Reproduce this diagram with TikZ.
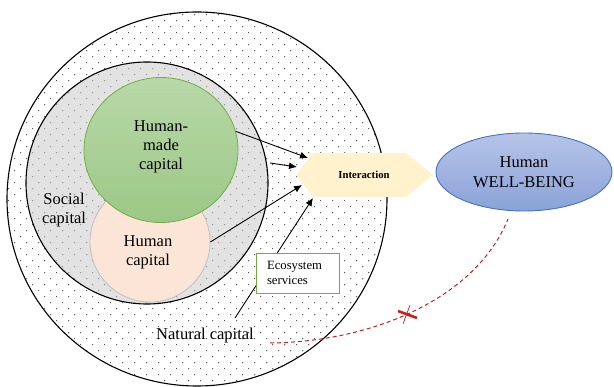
\documentclass[tikz,border=0pt]{standalone}
\usepackage{fontspec}
\setmainfont{Liberation Serif}
\usetikzlibrary{arrows.meta,shapes.geometric}

\definecolor{socialgray}{RGB}{226,226,226}
\definecolor{peachfill}{RGB}{251,229,214}
\definecolor{peachline}{RGB}{191,191,191}
\definecolor{greentop}{RGB}{184,216,168}
\definecolor{greenbot}{RGB}{156,200,134}
\definecolor{greenline}{RGB}{112,173,71}
\definecolor{hexfill}{RGB}{255,242,204}
\definecolor{wbtop}{RGB}{182,196,232}
\definecolor{wbbot}{RGB}{138,162,216}
\definecolor{wbline}{RGB}{68,114,196}
\definecolor{linkred}{RGB}{200,30,30}

\tikzset{
  lbl/.style={font=\fontsize{16.5}{19}\selectfont, align=center, inner sep=0pt},
  link/.style={line width=0.9pt, -{Latex[length=8pt,width=7pt]}},
  ring/.style={line width=1.1pt, draw=black},
  reddash/.style={draw=linkred, line width=1pt, dash pattern=on 4pt off 3pt},
}

% staggered dot texture, drawn inside the current clip
\newcommand{\dotfield}[1]{%
  \foreach \r [evaluate=\r as \off using {2.7+6*mod(\r,2)},
               evaluate=\r as \yy using {2.7+6*\r}] in {0,...,64} {
    \foreach \c in {0,...,33} {
      \fill[#1] ({\off+12*\c},\yy) circle [radius=0.6pt];
    }
  }%
}

\begin{document}
\begin{tikzpicture}[x=1pt,y=-1pt]
\useasboundingbox (0,0) rectangle (614,387);

% natural capital disc and social capital disc
\fill[white] (197,199) ellipse [x radius=190pt, y radius=187pt];
\fill[socialgray] (147,183) circle [radius=121pt];

% dotted texture: dark on the outer ring, softer on the grey disc
\begin{scope}
  \clip (197,199) ellipse [x radius=190pt, y radius=187pt];
  \dotfield{black!85}
\end{scope}
\begin{scope}
  \clip (147,183) circle [radius=121pt];
  \fill[socialgray] (147,183) circle [radius=121pt];
  \dotfield{black!55}
\end{scope}

\draw[ring] (197,199) ellipse [x radius=190pt, y radius=187pt];
\draw[ring] (147,183) circle [radius=121pt];

% capitals inside the social circle
\node[ellipse, draw=peachline, line width=0.8pt, fill=peachfill,
      minimum width=120pt, minimum height=120pt, inner sep=0pt] (hc) at (150,242) {};
\node[ellipse, draw=greenline, line width=0.8pt, top color=greentop, bottom color=greenbot,
      minimum width=154pt, minimum height=145pt, inner sep=0pt] (hmc) at (161,150) {};

\node[lbl] (hmctext) at (161,147) {Human-\\made\\capital};
\node[lbl] (hctext) at (148,252) {Human\\capital};
\node[lbl] (sc) at (64,210) {Social\\capital};
\node[lbl] (nc) at (205,336) {Natural capital};

% interaction hexagon
\fill[hexfill] (296,175) -- (313,153) -- (406,153) -- (433,175) -- (406,197) -- (313,197) -- cycle;
\node[font=\bfseries\fontsize{10.7}{12}\selectfont, inner sep=0pt] (inter) at (364,175) {Interaction};

% human well-being
\node[ellipse, draw=wbline, line width=0.9pt, top color=wbtop, bottom color=wbbot,
      minimum width=176pt, minimum height=78pt, inner sep=0pt,
      font=\fontsize{16.5}{20}\selectfont, align=center] (hwb) at (524,172) {Human\\WELL-BEING};

% arrow end points at the hexagon
\coordinate (t1) at (308,158);
\coordinate (t2) at (297,167);
\coordinate (t3) at (302,185);
\coordinate (t4) at (313,198);
\coordinate (s2) at (270,163);
\coordinate (s4) at (235,318);

\draw[link] (hmc.14) -- (t1);
\draw[link] (s2) -- (t2);
\draw[link] (hc.east) -- (t3);
\draw[link] (s4) -- (t4);

% ecosystem services box
\node[draw=greenline, line width=0.8pt, fill=white, text width=61pt, inner xsep=11pt,
      minimum height=40pt, align=left, font=\fontsize{12.7}{15}\selectfont] (eco) at (297.5,273) {Ecosystem\\services};

% broken link from natural capital to well-being
\coordinate (r1) at (270,343);
\coordinate (r2) at (508,219);
\draw[reddash] (r1) .. controls (370,342) and (475,300) .. (r2);
\coordinate (xa) at (398,311);
\coordinate (xb) at (417,318);
\coordinate (xc) at (403,324);
\coordinate (xd) at (410,305);
\draw[linkred, line width=2.6pt] (xa) -- (xb);
\draw[linkred, line width=0.7pt] (xc) -- (xd);
\end{tikzpicture}
\end{document}
